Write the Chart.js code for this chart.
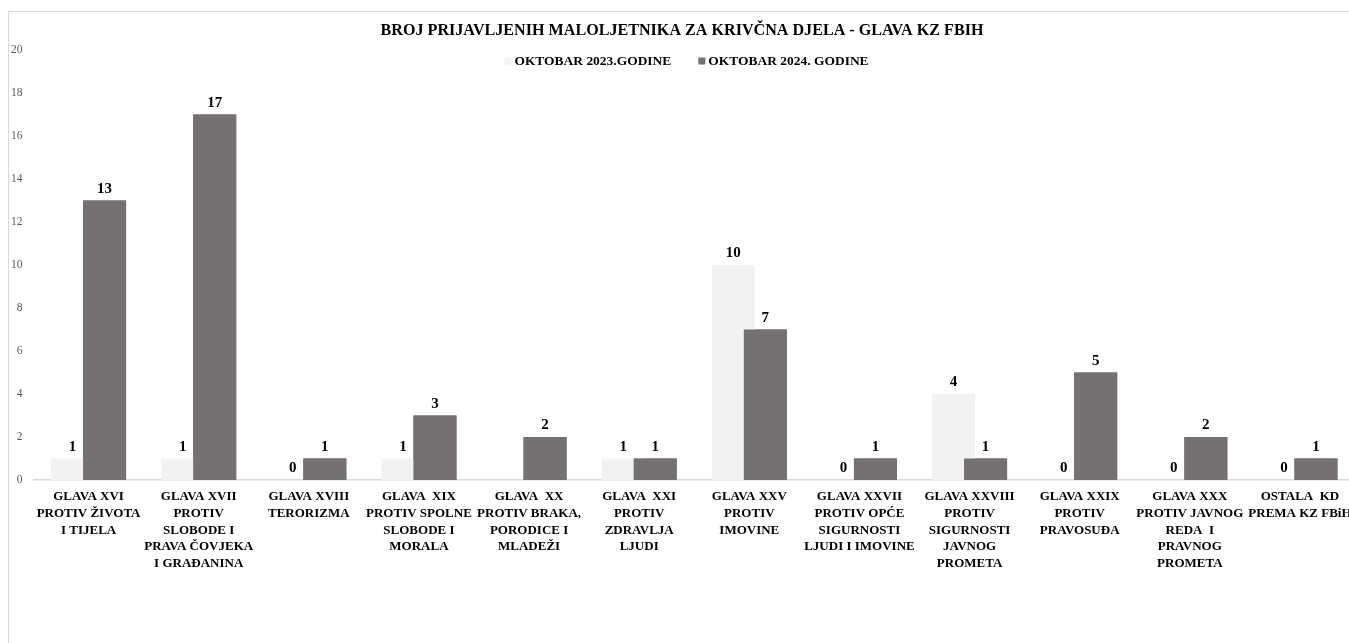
<!DOCTYPE html>
<html>
<head>
<meta charset="utf-8">
<script src="https://cdn.jsdelivr.net/npm/chart.js@4"></script>
<style>
  html, body { margin: 0; padding: 0; background: #fff; overflow: hidden; }
  #frame {
    position: absolute; left: 8px; top: 11px;
    width: 1356px; height: 632px;
    border-left: 1px solid #d9d9d9; border-top: 1px solid #d9d9d9;
  }
  canvas { display: block; }
</style>
</head>
<body>
<div id="frame"><canvas id="chart" width="1356" height="631"></canvas></div>
<script>
// Podaci
const chartTitle = 'BROJ PRIJAVLJENIH MALOLJETNIKA ZA KRIVČNA DJELA - GLAVA KZ FBIH';
const categories = [
  ['GLAVA XVI', 'PROTIV ŽIVOTA', 'I TIJELA'],
  ['GLAVA XVII', 'PROTIV', 'SLOBODE I', 'PRAVA ČOVJEKA', 'I GRAĐANINA'],
  ['GLAVA XVIII', 'TERORIZMA'],
  ['GLAVA  XIX', 'PROTIV SPOLNE', 'SLOBODE I', 'MORALA'],
  ['GLAVA  XX', 'PROTIV BRAKA,', 'PORODICE I', 'MLADEŽI'],
  ['GLAVA  XXI', 'PROTIV', 'ZDRAVLJA', 'LJUDI'],
  ['GLAVA XXV', 'PROTIV', 'IMOVINE'],
  ['GLAVA XXVII', 'PROTIV OPĆE', 'SIGURNOSTI', 'LJUDI I IMOVINE'],
  ['GLAVA XXVIII', 'PROTIV', 'SIGURNOSTI', 'JAVNOG', 'PROMETA'],
  ['GLAVA XXIX', 'PROTIV', 'PRAVOSUĐA'],
  ['GLAVA XXX', 'PROTIV JAVNOG', 'REDA  I', 'PRAVNOG', 'PROMETA'],
  ['OSTALA  KD', 'PREMA KZ FBiH']
];
const seriesNames = ['OKTOBAR 2023.GODINE', 'OKTOBAR 2024. GODINE'];
const values2023 = [1, 1, 0, 1, null, 1, 10, 0, 4, 0, 0, 0];
const values2024 = [13, 17, 1, 3, 2, 1, 7, 1, 1, 5, 2, 1];
const yMin = 0;
const yMax = 20;
const yStep = 2;

const FONT = '"Liberation Serif", "DejaVu Serif", serif';
const colors = ['#f2f2f2', '#767171'];

// velicina fonta prema ciljanoj sirini teksta
function fitSize(text, target, base, weight) {
  const c = document.createElement('canvas').getContext('2d');
  c.font = `${weight} ${base}px ${FONT}`;
  return base * target / c.measureText(text).width;
}

const titleSize = fitSize(chartTitle, 603, 20, 'bold');
const legendSize = fitSize(seriesNames[0], 157, 14, 'bold');
const catSize = fitSize('PROTIV ŽIVOTA', 104, 13, 'bold');
const valueSize = fitSize('10', 15, 13, 'bold');
const yTickSize = fitSize('20', 11.5, 9, 'normal');

const titleLine = titleSize * 1.2;
const titlePadTop = 19 - titleLine / 2;
const titlePadBottom = 38 - titlePadTop - titleLine;

// Oznake vrijednosti iznad stupaca
const valueLabels = {
  id: 'valueLabels',
  afterDatasetsDraw(chart) {
    // tamni stupci preko svijetlih (preklapanje kao u Excelu)
    chart.getDatasetMeta(1).controller.draw();

    const ctx = chart.ctx;
    ctx.save();
    ctx.font = `bold ${valueSize}px ${FONT}`;
    ctx.fillStyle = '#000';
    ctx.textAlign = 'center';
    ctx.textBaseline = 'alphabetic';
    chart.data.datasets.forEach((ds, di) => {
      chart.getDatasetMeta(di).data.forEach((bar, i) => {
        const v = ds.data[i];
        if (v === null || v === undefined) return;
        ctx.fillText(String(v), bar.x, bar.y - 8);
      });
    });
    ctx.restore();
  }
};

// Legenda iznad podrucja grafa
const topLegend = {
  id: 'topLegend',
  afterDraw(chart) {
    const ctx = chart.ctx;
    ctx.save();
    ctx.font = `bold ${legendSize}px ${FONT}`;
    const box = 7, gap = 3, spacing = 27;
    const items = chart.data.datasets.map(d => ({text: d.label, color: d.backgroundColor}));
    const widths = items.map(it => box + gap + ctx.measureText(it.text).width);
    const total = widths.reduce((a, b) => a + b, 0) + spacing * (items.length - 1);
    let x = 677.5 - total / 2;
    const y = 49;
    ctx.textBaseline = 'middle';
    items.forEach((it, i) => {
      ctx.fillStyle = it.color;
      ctx.fillRect(x, y - box / 2, box, box);
      ctx.fillStyle = '#000';
      ctx.fillText(it.text, x + box + gap, y + 1);
      x += widths[i] + spacing;
    });
    ctx.restore();
  }
};

const barOpts = {categoryPercentage: 0.5814, barPercentage: 1.344};

new Chart(document.getElementById('chart'), {
  type: 'bar',
  data: {
    labels: categories,
    datasets: [
      {label: seriesNames[0], data: values2023, backgroundColor: colors[0], ...barOpts},
      {label: seriesNames[1], data: values2024, backgroundColor: colors[1], ...barOpts}
    ]
  },
  options: {
    responsive: false,
    animation: false,
    layout: {padding: {left: 0, right: 10, top: 0, bottom: 0}},
    plugins: {
      legend: {display: false},
      tooltip: {enabled: false},
      title: {
        display: true,
        text: chartTitle,
        color: '#000',
        font: {family: FONT, size: titleSize, weight: 'bold', lineHeight: 1.2},
        padding: {top: titlePadTop, bottom: titlePadBottom}
      }
    },
    scales: {
      x: {
        grid: {display: false, drawTicks: false},
        border: {display: true, color: '#d9d9d9', width: 1.5},
        ticks: {
          autoSkip: false, maxRotation: 0, minRotation: 0,
          padding: 8.5, color: '#000',
          font: {family: FONT, size: catSize, weight: 'bold', lineHeight: 1.28}
        },
        afterFit(scale) { scale.height = 163; }
      },
      y: {
        min: yMin, max: yMax,
        grid: {display: false, drawTicks: false},
        border: {display: false},
        ticks: {
          stepSize: yStep, padding: 11, color: '#595959',
          font: {family: FONT, size: yTickSize}
        },
        afterFit(scale) { scale.width = 24.5; }
      }
    }
  },
  plugins: [valueLabels, topLegend]
});
</script>
</body>
</html>
